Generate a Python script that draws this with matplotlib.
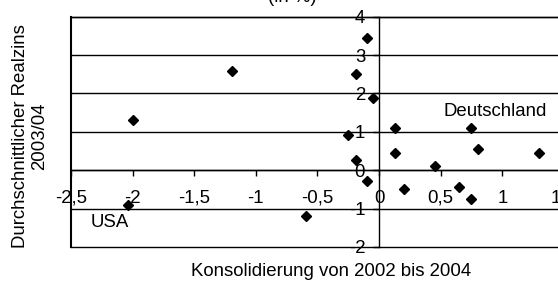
import matplotlib
matplotlib.use("Agg")
import matplotlib.pyplot as plt

plt.rcParams['font.family'] = ['Liberation Sans', 'DejaVu Sans']

# Konsolidierung von 2002 bis 2004 (x) / durchschnittlicher Realzins 2003/04 (y)
konsolidierung = [-2.0, -2.04, -1.19, -0.59, -0.10, -0.19, -0.05, -0.25, -0.19,
                  -0.10, 0.13, 0.13, 0.20, 0.45, 0.75, 0.80, 1.30, 0.65, 0.75]
realzins = [1.31, -0.90, 2.59, -1.20, 3.45, 2.51, 1.89, 0.91, 0.26,
            -0.29, 1.10, 0.44, -0.49, 0.11, 1.09, 0.55, 0.44, -0.43, -0.76]

xticks = [-2.5, -2, -1.5, -1, -0.5, 0, 0.5, 1, 1.5]
xticklabels = ["-2,5", "-2", "-1,5", "-1", "-0,5", "0", "0,5", "1", "1,5"]
yticks = [-2, -1, 0, 1, 2, 3, 4]

fs = 13.4

fig = plt.figure(figsize=(5.58, 2.84), dpi=100)
ax = fig.add_axes([0.1272, 0.1303, 0.932, 0.811])

ax.plot(konsolidierung, realzins, linestyle='none', marker='D',
        markersize=4.6, color='black')

ax.set_xlim(-2.5, 1.72)
ax.set_ylim(-2, 4)

# Achsen kreuzen bei 0
ax.spines['left'].set_position(('data', 0))
ax.spines['bottom'].set_position(('data', 0))
for s in ax.spines.values():
    s.set_linewidth(1)
    s.set_color('black')
ax.axvline(-2.5, color='black', lw=1.5, clip_on=False)

for y in yticks:
    ax.axhline(y, color='black', lw=1, clip_on=False)

ax.set_xticks(xticks)
ax.set_xticklabels(xticklabels)
ax.set_yticks(yticks)
ax.set_yticklabels([str(v) for v in yticks])
ax.tick_params(axis='x', direction='out', length=4, width=1, pad=10, labelsize=fs)
ax.tick_params(axis='y', direction='out', length=4, width=1, pad=6, labelsize=fs)

ax.text(0.525, 1.53, "Deutschland", ha='left', va='center', fontsize=fs)
ax.text(-2.34, -1.35, "USA", ha='left', va='center', fontsize=fs)

fig.text(331 / 558, 1 - 271 / 284, "Konsolidierung von 2002 bis 2004",
         ha='center', va='center', fontsize=fs)
fig.text(30 / 558, 1 - 136 / 284, "Durchschnittlicher Realzins\n2003/04",
         ha='center', va='center', rotation=90, fontsize=fs, multialignment='center')
fig.text(292 / 558, 1 - 1.5 / 284, "(in %)", ha='center', va='baseline', fontsize=fs)

fig.savefig("out.png", dpi=100)
